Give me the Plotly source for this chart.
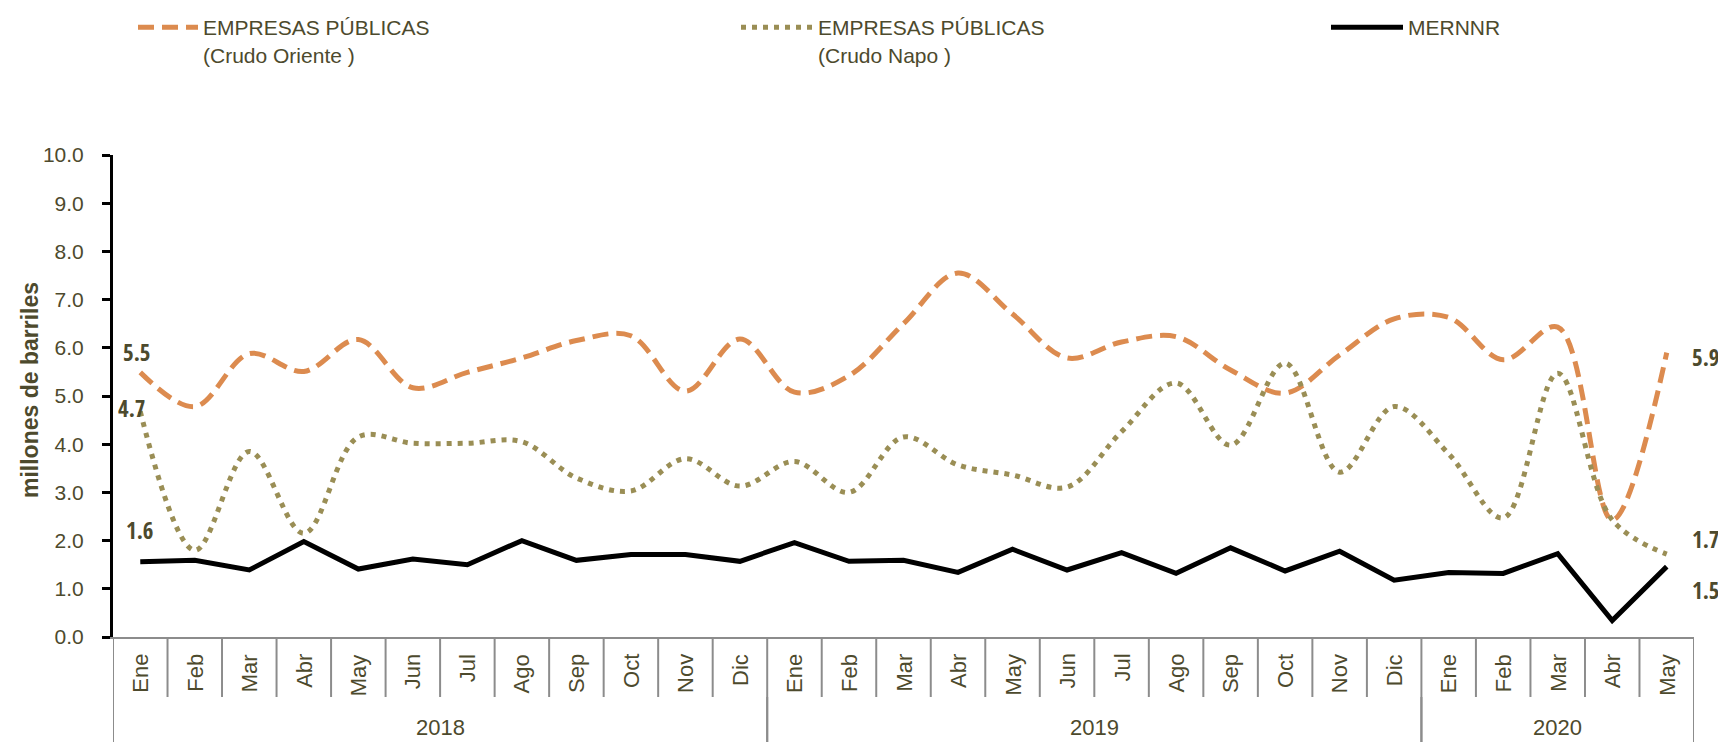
import plotly.graph_objects as go

# ---- data ----
years = ["2018", "2019", "2020"]
months_per_year = [12, 12, 5]
month_names = ["Ene", "Feb", "Mar", "Abr", "May", "Jun", "Jul", "Ago", "Sep", "Oct", "Nov", "Dic"]
months = month_names + month_names + month_names[:5]

crudo_oriente = [5.49, 4.78, 5.88, 5.51, 6.17, 5.17, 5.49, 5.79, 6.15, 6.25, 5.10, 6.18,
                 5.08, 5.42, 6.50, 7.55, 6.70, 5.79, 6.12, 6.23, 5.54, 5.06, 5.85, 6.60,
                 6.63, 5.75, 6.43, 2.43, 5.90]
crudo_napo = [4.68, 1.80, 3.85, 2.15, 4.15, 4.02, 4.02, 4.05, 3.30, 3.03, 3.70, 3.13,
              3.64, 3.00, 4.15, 3.57, 3.36, 3.11, 4.26, 5.27, 3.98, 5.68, 3.42, 4.78,
              3.80, 2.47, 5.47, 2.43, 1.72]
mernnr = [1.56, 1.59, 1.39, 1.98, 1.41, 1.62, 1.50, 2.00, 1.59, 1.71, 1.71, 1.57,
          1.96, 1.57, 1.59, 1.34, 1.82, 1.39, 1.75, 1.32, 1.85, 1.37, 1.78, 1.18,
          1.34, 1.32, 1.73, 0.34, 1.46]

W, H = 1726, 742
OFF = 8  # page body margin shifts the figure by this much
# plot area edges on screen: left 113, right 1694, top 155, bottom 637
L, T = 113 - OFF, 155 - OFF
R, B = W - (1694 - OFF), H - (637 - OFF)
PW, PH = W - L - R, H - T - B
TXT = "#4d4a2d"
FONT = "Liberation Sans, Arial, sans-serif"
BOLD_NARROW = "Open Sans Condensed, Liberation Sans, Arial, sans-serif"


def py(ys):  # screen pixel row -> paper y
    return (H - B - (ys - OFF)) / PH


def px(xs):  # screen pixel column -> paper x
    return (xs - OFF - L) / PW


x = list(range(len(months)))

fig = go.Figure()
fig.add_trace(go.Scatter(
    x=x, y=crudo_oriente, mode="lines", legend="legend",
    name="EMPRESAS PÚBLICAS<br>(Crudo Oriente )",
    line=dict(color="#dc8b4f", width=5, dash="16px,8px", shape="spline", smoothing=1),
))
fig.add_trace(go.Scatter(
    x=x, y=crudo_napo, mode="lines", legend="legend2",
    name="EMPRESAS PÚBLICAS<br>(Crudo Napo )",
    line=dict(color="#9a8e55", width=5, dash="5px,6px", shape="spline", smoothing=1),
))
fig.add_trace(go.Scatter(
    x=x, y=mernnr, mode="lines", legend="legend3",
    name="MERNNR",
    line=dict(color="black", width=5),
))

# data labels at first and last points
lbl_font = dict(family=BOLD_NARROW, size=23, color=TXT, weight="bold")
first, last = 0, len(months) - 1
fig.add_annotation(x=first, y=crudo_oriente[first], text=f"{crudo_oriente[first]:.1f}",
                   showarrow=False, font=lbl_font, xshift=-3, yshift=20)
fig.add_annotation(x=first, y=crudo_napo[first], text=f"{crudo_napo[first]:.1f}",
                   showarrow=False, font=lbl_font, xshift=-8, yshift=3)
fig.add_annotation(x=first, y=mernnr[first], text=f"{mernnr[first]:.1f}",
                   showarrow=False, font=lbl_font, xshift=0, yshift=32)
fig.add_annotation(x=last, y=crudo_oriente[last], text=f"{crudo_oriente[last]:.1f}",
                   showarrow=False, font=lbl_font, xshift=39, yshift=-4)
fig.add_annotation(x=last, y=crudo_napo[last], text=f"{crudo_napo[last]:.1f}",
                   showarrow=False, font=lbl_font, xshift=39, yshift=15)
fig.add_annotation(x=last, y=mernnr[last], text=f"{mernnr[last]:.1f}",
                   showarrow=False, font=lbl_font, xshift=39, yshift=-23)

# category table below the axis
month_bottom = py(697)
line_col = "#8c8c8c"
for i in range(len(months) + 1):
    fig.add_shape(type="line", xref="x", yref="paper", x0=i - 0.5, x1=i - 0.5,
                  y0=0, y1=month_bottom, line=dict(color=line_col, width=2))
for i, m in enumerate(months):
    fig.add_annotation(x=i, y=py(652), xref="x", yref="paper", text=m,
                       textangle=-90, showarrow=False, yanchor="top",
                       font=dict(family=FONT, size=22, color=TXT))
start = 0
for yr, n in zip(years, months_per_year):
    for b in (start, start + n):
        fig.add_shape(type="line", xref="x", yref="paper", x0=b - 0.5, x1=b - 0.5,
                      y0=month_bottom, y1=py(760), line=dict(color=line_col, width=2))
    fig.add_annotation(x=start + (n - 1) / 2, y=py(727), xref="x", yref="paper",
                       text=yr, showarrow=False, yanchor="middle",
                       font=dict(family=FONT, size=22, color=TXT))
    start += n

# y axis title
fig.add_annotation(x=px(30), y=py(390), xref="paper", yref="paper",
                   xanchor="center", yanchor="middle",
                   text="<b>millones de barriles</b>", textangle=-90, showarrow=False,
                   font=dict(family=FONT, size=23, color=TXT))

leg_common = dict(
    orientation="h", xanchor="left", yanchor="top", y=py(7),
    font=dict(family=FONT, size=21, color=TXT), valign="top",
    bgcolor="rgba(0,0,0,0)",
)

fig.update_layout(
    width=W, height=H,
    margin=dict(l=L, r=R, t=T, b=B, autoexpand=False),
    plot_bgcolor="white", paper_bgcolor="white",
    showlegend=True,
    legend=dict(leg_common, x=px(133), itemwidth=60),
    legend2=dict(leg_common, x=px(736), itemwidth=72),
    legend3=dict(leg_common, x=px(1326), itemwidth=72),
    xaxis=dict(
        range=[-0.5, len(months) - 0.5], showticklabels=False, ticks="",
        showgrid=False, zeroline=False, showline=True, linecolor=line_col, linewidth=2,
        automargin=False,
    ),
    yaxis=dict(
        range=[0, 10], dtick=1, tickformat=".1f", showgrid=False, zeroline=False,
        showline=True, linecolor="black", linewidth=3,
        ticks="outside", ticklen=8, tickwidth=3, tickcolor="black",
        ticklabelstandoff=14, automargin=False,
        tickfont=dict(family=FONT, size=21, color=TXT),
    ),
)

fig.write_html("out.html")
